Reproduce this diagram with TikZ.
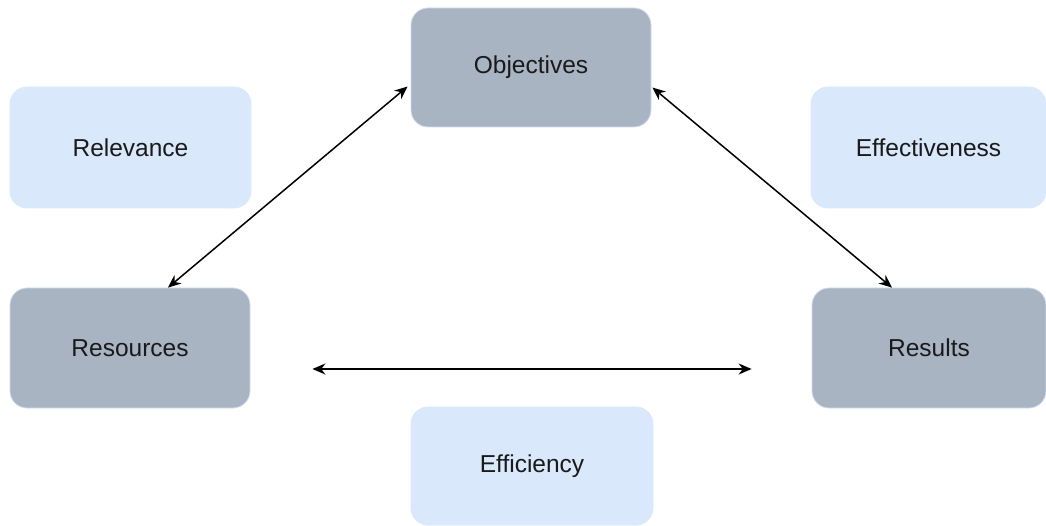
\documentclass[tikz,border=0pt]{standalone}
\usepackage{fontspec}
\setmainfont{Liberation Sans}
\usetikzlibrary{arrows.meta,calc}
\definecolor{coreFill}{HTML}{A9B4C2}
\definecolor{critFill}{HTML}{DAE8FC}
\definecolor{boxEdge}{HTML}{CFDDF2}
\definecolor{ink}{HTML}{1A1A1A}
\tikzset{
  box/.style={rounded corners=17pt, draw=boxEdge, line width=0.8pt,
    text=ink, font=\fontsize{24.5}{28}\selectfont, inner sep=0pt},
  corebox/.style={box, fill=coreFill},
  critbox/.style={box, fill=critFill, draw=critFill},
  link/.style={line width=1.5pt, draw=black,
    {Stealth[length=13pt,width=11pt]}-{Stealth[length=13pt,width=11pt]}}
}
\begin{document}
\begin{tikzpicture}[x=1pt,y=-1pt]
  \useasboundingbox (0,0) rectangle (1046,526);
  % core elements
  \node[corebox, minimum width=240pt, minimum height=119pt] (obj) at (531,67.5) {Objectives};
  \node[corebox, minimum width=240pt, minimum height=120pt] (res) at (130,348) {Resources};
  \node[corebox, minimum width=234pt, minimum height=120pt] (out) at (929,348) {Results};
  % evaluation criteria
  \node[critbox, minimum width=241pt, minimum height=121pt] (rel) at (130.5,147.5) {Relevance};
  \node[critbox, minimum width=235pt, minimum height=121pt] (eff) at (928.5,147.5) {Effectiveness};
  \node[critbox, minimum width=242pt, minimum height=118pt] (effi) at (532,466) {Efficiency};
  % connector end points
  \coordinate (objL) at ($(obj.west)+(-3,19)$);
  \coordinate (objR) at ($(obj.east)+(1,20)$);
  \coordinate (resT) at ($(res.north)+(38,0)$);
  \coordinate (outT) at ($(out.north)+(-37,0)$);
  \coordinate (resR) at ($(res.east)+(62,21)$);
  \coordinate (outL) at ($(out.west)+(-60,21)$);
  % relations
  \draw[link] (objL) -- (resT);
  \draw[link] (objR) -- (outT);
  \draw[link] (resR) -- (outL);
\end{tikzpicture}
\end{document}
